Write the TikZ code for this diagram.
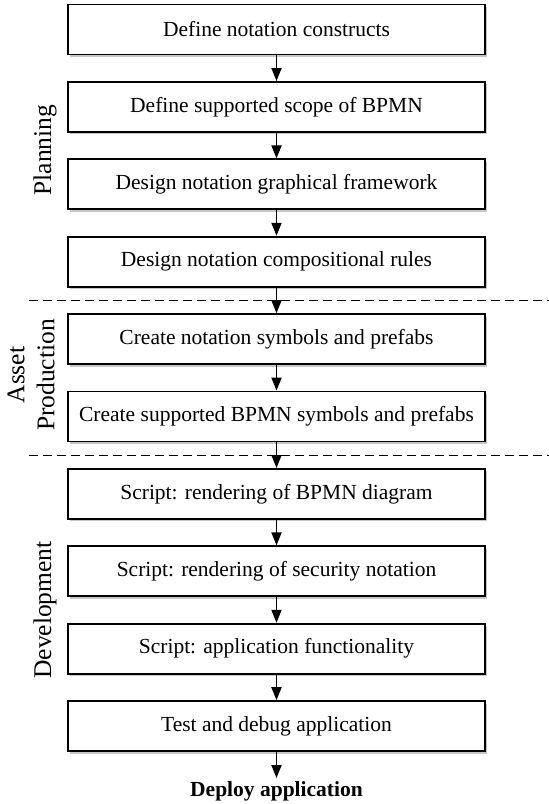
\documentclass[tikz,border=0pt]{standalone}
\usepackage{fontspec}
\setmainfont{Liberation Serif}
\usetikzlibrary{positioning,arrows.meta,shadows,calc}

\tikzset{
  stepbox/.style={draw, line width=1.8pt, fill=white, minimum width=417pt,
    minimum height=50pt, inner sep=0pt, font=\fontsize{21.5}{24}\selectfont,
    drop shadow={shadow xshift=2pt, shadow yshift=-2.5pt, fill=black!22, opacity=1}},
  flow/.style={-{Triangle[length=13pt,width=10pt]}, line width=1.8pt},
  phase/.style={rotate=90, font=\fontsize{25.5}{30}\selectfont, align=center},
  split/.style={line width=1.3pt, dash pattern=on 9pt off 5pt}
}

\begin{document}
\begin{tikzpicture}[x=1pt, y=1pt, node distance=25.6pt]
      \useasboundingbox (0,0) rectangle (549,-804);

      % Planning
      \node[stepbox] (s1) at (276.5,-29.5) {Define notation constructs};
      \node[stepbox, below=of s1] (s2) {Define supported scope of BPMN};
      \node[stepbox, below=of s2] (s3) {Design notation graphical framework};
      \node[stepbox, below=of s3] (s4) {Design notation compositional rules};

      % Asset production
      \node[stepbox, below=of s4] (s5) {Create notation symbols and prefabs};
      \node[stepbox, below=of s5] (s6) {Create supported BPMN symbols and prefabs};

      % Development
      \node[stepbox, below=of s6] (s7) {Script: rendering of BPMN diagram};
      \node[stepbox, below=of s7] (s8) {Script: rendering of security notation};
      \node[stepbox, below=of s8] (s9) {Script: application functionality};
      \node[stepbox, below=of s9] (s10) {Test and debug application};

      \node[below=26pt of s10, inner sep=3pt, font=\fontsize{21.5}{24}\selectfont\bfseries] (deploy) {Deploy application};

      % phase labels
      \node[phase] (planning) at (45,-150) {Planning};
      \node[phase] (asset) at (31,-375) {Asset\\Production};
      \node[phase] (devel) at (45,-610) {Development};

      % separators
      \coordinate (cut1) at ($(s4.south)!0.5!(s5.north)$);
      \coordinate (cut2) at ($(s6.south)!0.5!(s7.north)$);
      \draw[split] (cut1) ++(-247.5,0) -- ++(520,0);
      \draw[split] (cut2) ++(-247.5,0) -- ++(520,0);

      \draw[flow] (s1.south) -- (s2.north);
      \draw[flow] (s2.south) -- (s3.north);
      \draw[flow] (s3.south) -- (s4.north);
      \draw[flow] (s4.south) -- (s5.north);
      \draw[flow] (s5.south) -- (s6.north);
      \draw[flow] (s6.south) -- (s7.north);
      \draw[flow] (s7.south) -- (s8.north);
      \draw[flow] (s8.south) -- (s9.north);
      \draw[flow] (s9.south) -- (s10.north);
      \draw[flow] (s10.south) -- (deploy.north);
\end{tikzpicture}
\end{document}
